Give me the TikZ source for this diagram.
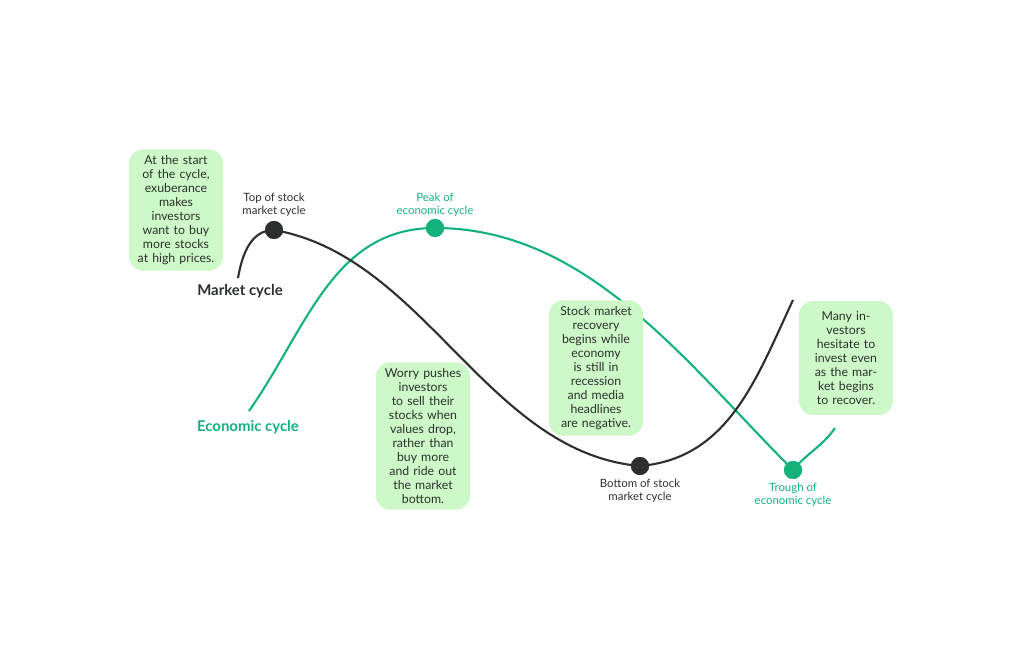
\documentclass[tikz,border=0pt]{standalone}
\usepackage{fontspec}
\setmainfont{Lato}
\definecolor{ink}{HTML}{2B302C}
\definecolor{eco}{HTML}{12B27A}
\definecolor{note}{HTML}{CDF8C8}
\tikzset{
  notebox/.style={fill=note,rounded corners=8pt,minimum width=1.88cm,minimum height=2.28cm,text width=1.6cm,align=center,font=\fontsize{7}{8}\selectfont,text=ink},
  cyclabel/.style={align=center,font=\fontsize{6.5}{7.5}\selectfont},
  dot/.style={circle,inner sep=0pt,minimum size=0.36cm}
}
\begin{document}
\begin{tikzpicture}[x=0.02cm,y=0.02cm]
  \useasboundingbox (0,0) rectangle (1027,646);
  %% cycle points
  \node[dot,fill=ink] (top) at (274,416) {};
  \node[dot,fill=ink] (bottom) at (640,180) {};
  \node[dot,fill=eco] (peak) at (435,418) {};
  \node[dot,fill=eco] (trough) at (793,176) {};
  \coordinate (mstart) at (238,368);
  \coordinate (mend) at (793,346);
  \coordinate (estart) at (249,235);
  \coordinate (eend) at (835,218);
  %% curves
  \draw[eco,line width=1.2pt] (estart) to[out=55,in=180] (peak.center) to[out=0,in=135,looseness=0.9] (trough.center) to[out=50,in=235] (eend);
  \draw[ink,line width=1.2pt] (mstart) to[out=80,in=180] (top.center) to[out=-10,in=175,looseness=0.9] (bottom.center) to[out=5,in=245] (mend);
  \node[dot,fill=ink] at (top) {};
  \node[dot,fill=ink] at (bottom) {};
  \node[dot,fill=eco] at (peak) {};
  \node[dot,fill=eco] at (trough) {};
  %% notes
  \node[notebox] (n1) at (176,436) {At the start of the cycle, exuberance makes investors want to buy more stocks at high prices.};
  \node[notebox] (n2) at (423,210) {Worry pushes investors to sell their stocks when values drop, rather than buy more and ride out the market bottom.};
  \node[notebox] (n3) at (596,278) {Stock market recovery begins while economy is still in recession and media headlines are negative.};
  \node[notebox] (n4) at (846,288) {Many investors hesitate to invest even as the market begins to recover.};
  %% labels
  \node[cyclabel,text=ink] (ltop) at (274,441) {Top of stock\\market cycle};
  \node[cyclabel,text=eco] (lpeak) at (435,441) {Peak of\\economic cycle};
  \node[cyclabel,text=ink] (lbottom) at (640,155) {Bottom of stock\\market cycle};
  \node[cyclabel,text=eco] (ltrough) at (793,151) {Trough of\\economic cycle};
  \node[font=\bfseries\fontsize{8.5}{10}\selectfont,text=ink] (lmarket) at (240,355) {Market cycle};
  \node[font=\bfseries\fontsize{8.5}{10}\selectfont,text=eco] (leco) at (248,219) {Economic cycle};
\end{tikzpicture}
\end{document}
